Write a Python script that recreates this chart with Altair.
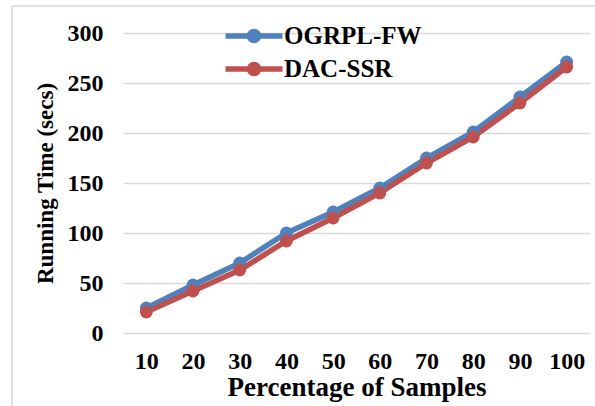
import altair as alt
import pandas as pd

samples = [10, 20, 30, 40, 50, 60, 70, 80, 90, 100]
ogrpl_fw = [25, 48, 70, 100, 121, 145, 175, 201, 236, 271]
dac_ssr = [21, 42, 63, 92, 115, 140, 170, 196, 230, 266]
series_names = ["OGRPL-FW", "DAC-SSR"]
series_colors = ["#4F81BD", "#C0504D"]

rows = []
for i, s in enumerate(samples):
    rows.append({"Samples": s, "Series": series_names[0], "Time": ogrpl_fw[i], "order": 0})
for i, s in enumerate(samples):
    rows.append({"Samples": s, "Series": series_names[1], "Time": dac_ssr[i], "order": 1})
df = pd.DataFrame(rows)

FONT = "Liberation Serif"

# legend symbol: line with a dot (unit coords scaled by sqrt(size)/2 = 10px)
legend_path = ("M-2.85,0 L2.85,0 "
               "M0.45,0 A0.45,0.45 0 1,1 -0.45,0 A0.45,0.45 0 1,1 0.45,0 Z")

x_enc = alt.X("Samples:O", sort=samples,
              axis=alt.Axis(title="Percentage of Samples", labelAngle=0,
                            labelFont=FONT, labelFontSize=24, labelFontWeight="bold",
                            labelColor="#000000", labelPadding=16,
                            titleFont=FONT, titleFontSize=27, titleFontWeight="bold",
                            titleColor="#000000", titlePadding=1,
                            domain=False, ticks=False, grid=False))
y_enc = alt.Y("Time:Q", scale=alt.Scale(domain=[0, 300]),
              axis=alt.Axis(title="Running Time (secs)", values=[0, 50, 100, 150, 200, 250, 300],
                            labelFont=FONT, labelFontSize=24, labelFontWeight="bold",
                            labelColor="#000000", labelPadding=20,
                            titleFont=FONT, titleFontSize=23, titleFontWeight="bold",
                            titleColor="#000000", titlePadding=10,
                            domain=False, ticks=False,
                            grid=True, gridColor="#d9d9d9", gridWidth=1.5))
color_enc = alt.Color("Series:N", sort=series_names,
                      scale=alt.Scale(domain=series_names, range=series_colors),
                      legend=alt.Legend(title=None, orient="none", legendX=118, legendY=-10,
                                        padding=0,
                                        symbolType=legend_path, symbolSize=400,
                                        symbolStrokeWidth=5.5, labelOffset=17,
                                        labelFont=FONT, labelFontSize=25, labelFontWeight="bold",
                                        labelColor="#000000", rowPadding=1))

base = alt.Chart(df)
lines = base.mark_line(strokeWidth=5.5).encode(
    x=x_enc, y=y_enc, color=color_enc, detail="Series:N", order="order:Q")
points = base.mark_circle(size=165, opacity=1).encode(
    x="Samples:O", y="Time:Q", color=alt.Color("Series:N", legend=None,
                                                scale=alt.Scale(domain=series_names, range=series_colors)))

border_left = alt.Chart(pd.DataFrame({"a": [0]})).mark_rule(color="#d9d9d9", strokeWidth=1.5).encode(
    x=alt.value(-111), y=alt.value(-27), y2=alt.value(380))
border_top = alt.Chart(pd.DataFrame({"a": [0]})).mark_rule(color="#d9d9d9", strokeWidth=1.5).encode(
    x=alt.value(-111), x2=alt.value(480), y=alt.value(-27))

chart = alt.layer(border_left, border_top, lines, points).properties(
    width=467, height=300,
    padding={"left": 123, "top": 33, "right": 5, "bottom": 73},
    autosize=alt.AutoSizeParams(type="none"),
    background="#ffffff",
).configure_view(stroke=None)

chart.save("out.html", embed_options={"renderer": "svg", "actions": False})
